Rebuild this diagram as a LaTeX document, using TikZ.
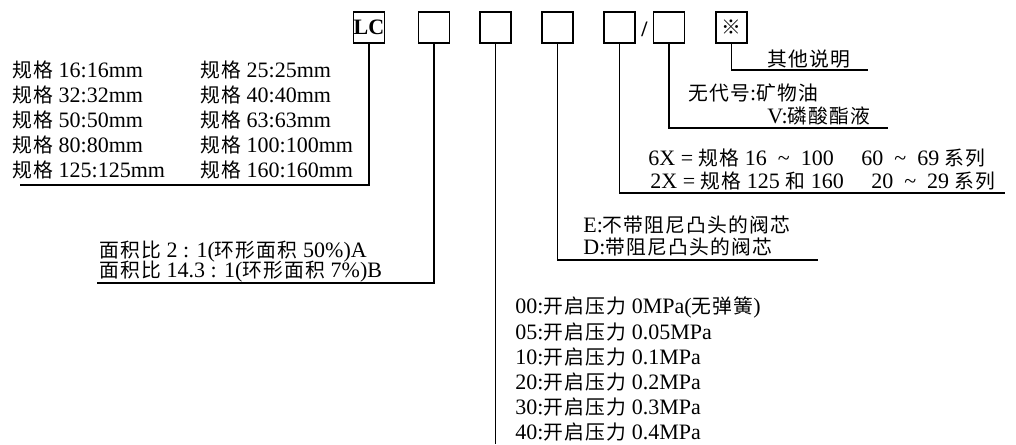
\documentclass[tikz,border=0pt]{standalone}
\usepackage{fontspec}
\setmainfont{Liberation Serif}
\newfontfamily\zhfont[Scale=0.9,LetterSpace=6]{Noto Sans CJK SC}
\newcommand{\zh}[1]{{\zhfont #1}}
\newcommand{\til}{\enspace\textasciitilde\enspace}
\usetikzlibrary{positioning}

\begin{document}
\begin{tikzpicture}[
  x=.5pt,y=-.5pt,
  codebox/.style={draw=black,line width=.8pt,minimum size=15.5pt,
    inner sep=0pt,font=\fontsize{11}{12}\selectfont\bfseries},
  lead/.style={draw=black,line width=.7pt},
  item/.style={anchor=west,inner sep=0pt,font=\fontsize{11}{12}\selectfont}
]
  \useasboundingbox (0,0) rectangle (1016,444);
  % code boxes
  \node[codebox] (lc) at (369,27.5) {LC};
  \node[codebox] (b1) at (434,27.5) {};
  \node[codebox] (b2) at (495.5,27.5) {};
  \node[codebox] (b3) at (557.5,27.5) {};
  \node[codebox] (b4) at (619.5,27.5) {};
  \node[font=\fontsize{11}{12}\selectfont\bfseries,inner sep=0pt] (sl) at (644.5,29) {/};
  \node[codebox] (b5) at (669,27.5) {};
  \node[codebox] (b6) at (731.5,27.5) {\zh{※}};
  % end points of the leads
  \coordinate (e0) at (20,185);
  \coordinate (e1) at (97,283);
  \coordinate (e2) at (495.5,444);
  \coordinate (e3) at (818,260);
  \coordinate (e4) at (1005,193);
  \coordinate (e5) at (888,128);
  \coordinate (e6) at (868,70);
  \draw[lead] (lc.south) |- (e0);
  \draw[lead] (b1.south) |- (e1);
  \draw[lead] (b2.south) -- (e2);
  \draw[lead] (b3.south) |- (e3);
  \draw[lead] (b4.south) |- (e4);
  \draw[lead] (b5.south) |- (e5);
  \draw[lead] (b6.south) |- (e6);
  % sizes
  \foreach \l/\r [count=\i from 0] in
    {16:16mm/25:25mm,32:32mm/40:40mm,50:50mm/63:63mm,
     80:80mm/100:100mm,125:125mm/160:160mm}{
    \node[item] (sl\i) at (12,{70+25*\i}) {\zh{规格} \l};
    \node[item] (sr\i) at (200,{70+25*\i}) {\zh{规格} \r};
  }
  % area ratio
  \node[item] (ra) at (99,252) {\zh{面积比} 2 : 1(\zh{环形面积} 50\%)A};
  \node[item] (rb) at (99,272) {\zh{面积比} 14.3 : 1(\zh{环形面积} 7\%)B};
  % cracking pressure
  \foreach \c/\p [count=\i from 0] in
    {00/{0MPa(\zh{无弹簧})},05/0.05MPa,10/0.1MPa,20/0.2MPa,30/0.3MPa,40/0.4MPa}{
    \node[item] (p\i) at (515,{307+25*\i}) {\c:\zh{开启压力} \p};
  }
  % poppet
  \node[item] (pe) at (583,225) {E:\zh{不带阻尼凸头的阀芯}};
  \node[item] (pd) at (583,247) {D:\zh{带阻尼凸头的阀芯}};
  % series
  \node[item] (s6) at (648,158) {6X = \zh{规格} 16\til100\quad\ 60\til69 \zh{系列}};
  \node[item] (s2) at (650,181) {2X = \zh{规格} 125 \zh{和} 160\quad\ 20\til29 \zh{系列}};
  % fluid
  \node[item] (fm) at (688,93) {\zh{无代号}:\zh{矿物油}};
  \node[item] (fv) at (767,116) {V:\zh{磷酸酯液}};
  % other
  \node[item] (ot) at (767,59) {\zh{其他说明}};
\end{tikzpicture}
\end{document}
